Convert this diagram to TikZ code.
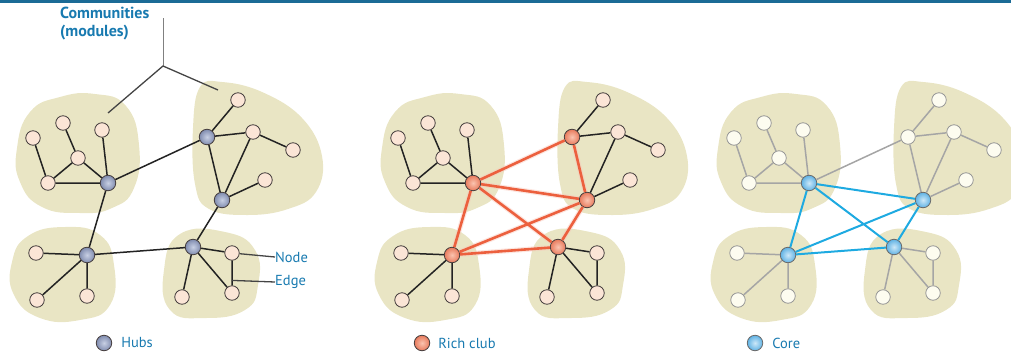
\documentclass[tikz,border=0pt]{standalone}
\usepackage{fontspec}
\setsansfont{PT Sans}
\usetikzlibrary{positioning}

% colours
\definecolor{rulecol}{RGB}{27,107,150}
\definecolor{labelblue}{RGB}{24,122,176}
\definecolor{blobcol}{RGB}{233,229,196}
\definecolor{leafcol}{RGB}{251,229,214}
\definecolor{leafline}{RGB}{70,62,62}
\definecolor{linkcol}{RGB}{35,35,35}
\definecolor{hubin}{RGB}{200,208,228}
\definecolor{hubout}{RGB}{128,140,175}
\definecolor{clubin}{RGB}{250,196,176}
\definecolor{clubout}{RGB}{232,122,92}
\definecolor{clubcol}{RGB}{236,96,62}
\definecolor{corein}{RGB}{205,232,248}
\definecolor{coreout}{RGB}{95,178,228}
\definecolor{corecol}{RGB}{30,170,225}
\definecolor{paleleaf}{RGB}{253,252,240}
\definecolor{grayline}{RGB}{150,150,150}
\definecolor{graylink}{RGB}{165,165,165}

\tikzset{
  blob/.style={fill=blobcol},
  leaf/.style={circle, draw=leafline, fill=leafcol, line width=0.8pt, minimum size=14.5pt, inner sep=0pt},
  hub/.style={circle, draw=leafline, shade, inner color=hubin, outer color=hubout, line width=0.8pt, minimum size=15.5pt, inner sep=0pt},
  sidehub/.style={hub},
  link/.style={draw=linkcol, line width=1.5pt},
  clublink/.style={draw=clubcol, line width=2.6pt, preaction={draw=clubcol!35, line width=5pt, opacity=0.45}},
  corelink/.style={draw=corecol, line width=2pt},
  pointer/.style={draw=linkcol!85, line width=1.3pt},
  key/.style={font=\sffamily\fontsize{14.5}{16}\selectfont, text=labelblue, inner sep=0pt},
}

% four communities with their hubs, leaves and local edges
\newcommand{\network}{%
  % shaded community areas
  \fill[blob] plot[smooth cycle, tension=0.8] coordinates {(60,97) (95,94) (126,106) (139,145) (134,188) (112,208) (80,213) (42,207) (20,182) (17,148) (30,112)};
  \fill[blob] plot[smooth cycle, tension=0.7] coordinates {(200,87) (222,82) (262,92) (302,118) (322,156) (316,192) (288,209) (248,215) (209,209) (195,184) (193,128)};
  \fill[blob] plot[smooth cycle, tension=0.8] coordinates {(28,236) (65,227) (100,235) (114,265) (110,305) (80,320) (40,318) (14,295) (12,262)};
  \fill[blob] plot[smooth cycle, tension=0.8] coordinates {(180,234) (225,232) (255,250) (258,285) (245,310) (205,318) (170,310) (164,270)};
  % hubs
  \node[hub] (hubA) at (108,183) {};
  \node[sidehub] (hubB1) at (207,137) {};
  \node[hub] (hubB2) at (222,200) {};
  \node[hub] (hubC) at (87,255) {};
  \node[hub] (hubD) at (193,247) {};
  % leaves
  \node[leaf] (a1) at (33,138) {};
  \node[leaf] (a2) at (63,123) {};
  \node[leaf] (a3) at (102,130) {};
  \node[leaf] (a4) at (78,158) {};
  \node[leaf] (a5) at (48,183) {};
  \node[leaf] (b1) at (238,100) {};
  \node[leaf] (b2) at (253,132) {};
  \node[leaf] (b3) at (293,150) {};
  \node[leaf] (b4) at (265,180) {};
  \node[leaf] (c1) at (36,253) {};
  \node[leaf] (c2) at (37,300) {};
  \node[leaf] (c3) at (87,296) {};
  \node[leaf] (d1) at (232,253) {};
  \node[leaf] (d2) at (232,293) {};
  \node[leaf] (d3) at (182,297) {};
  % edges inside the communities
  \draw[link] (a1) -- (a5) (a2) -- (a4) (a4) -- (a5) (a4) -- (hubA) (a5) -- (hubA) (a3) -- (hubA);
  \draw[link] (hubB1) -- (b1) (hubB1) -- (b2) (b2) -- (b3) (b2) -- (hubB2) (b4) -- (hubB2);
  \draw[link] (hubC) -- (c1) (hubC) -- (c2) (hubC) -- (c3);
  \draw[link] (hubD) -- (d1) (hubD) -- (d2) (hubD) -- (d3) (d1) -- (d2);
}

\begin{document}
\begin{tikzpicture}[x=1pt,y=-1pt]
  \useasboundingbox (0,0) rectangle (1011,356);
  \fill[rulecol] (0,0) rectangle (1011,3);

  % hubs
  \begin{scope}
    \network
    \draw[link] (hubA) -- (hubB1) (hubA) -- (hubC) (hubC) -- (hubD) (hubD) -- (hubB2) (hubB1) -- (hubB2);

    % community label with its fork
    \node[key, font=\sffamily\bfseries\fontsize{16}{18}\selectfont, align=left, anchor=north west] (comm) at (60,7) {Communities\\(modules)};
    \coordinate (forktop) at (163,18);
    \coordinate (fork) at (163,66);
    \coordinate (tipA) at (108,113);
    \coordinate (tipB) at (218,90);
    \draw[draw=gray, line width=1pt] (forktop) -- (fork);
    \draw[pointer] (tipA) -- (fork) -- (tipB);

    % node and edge labels
    \node[key, anchor=west] (nodelbl) at (275,257) {Node};
    \node[key, anchor=west] (edgelbl) at (275,282) {Edge};
    \path (d1) -- (d2) coordinate[pos=0.8] (emid);
    \draw[pointer] (d1) -- (nodelbl.west);
    \draw[pointer] (emid) -- (edgelbl.west);

    \node[hub] (hubkey) at (104,343) {};
    \node[key, right=9pt of hubkey] {Hubs};
  \end{scope}

  % rich club
  \begin{scope}[xshift=365pt, hub/.append style={inner color=clubin, outer color=clubout}]
    \network
    \draw[clublink] (hubA) -- (hubB1) (hubA) -- (hubB2) (hubA) -- (hubD) (hubA) -- (hubC)
      (hubB1) -- (hubB2) (hubC) -- (hubB2) (hubB2) -- (hubD) (hubC) -- (hubD);
    \node[hub] (clubkey) at (57,343) {};
    \node[key, right=8pt of clubkey] {Rich club};
  \end{scope}

  % core
  \begin{scope}[xshift=701pt,
      leaf/.append style={draw=grayline, fill=paleleaf},
      link/.append style={draw=graylink},
      hub/.append style={draw=grayline!70!black, inner color=corein, outer color=coreout},
      sidehub/.style={leaf}]
    \network
    \draw[link] (hubA) -- (hubB1) (hubB1) -- (hubB2);
    \draw[corelink] (hubA) -- (hubC) (hubC) -- (hubD) (hubD) -- (hubB2) (hubA) -- (hubB2) (hubA) -- (hubD) (hubC) -- (hubB2);
    \node[hub] (corekey) at (54,343) {};
    \node[key, right=9pt of corekey] {Core};
  \end{scope}
\end{tikzpicture}
\end{document}
